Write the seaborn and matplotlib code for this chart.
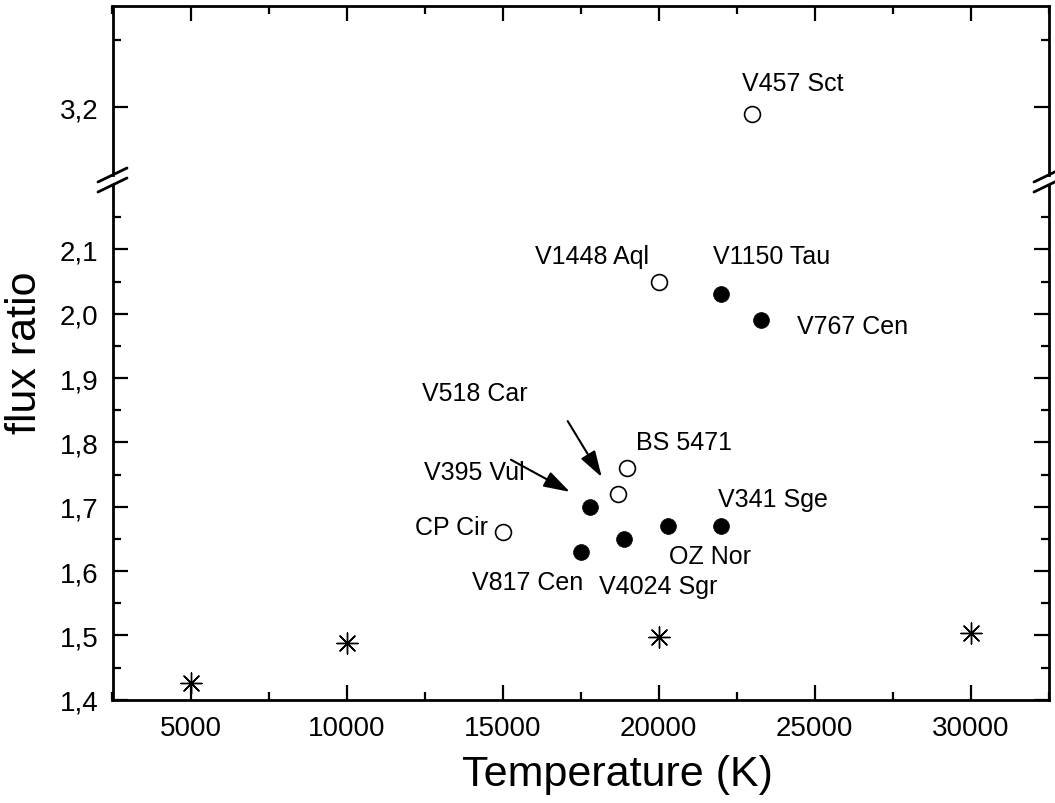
import matplotlib
matplotlib.use("Agg")
import matplotlib.pyplot as plt
import numpy as np
import pandas as pd
import seaborn as sns
from matplotlib.ticker import MultipleLocator, FixedLocator, FuncFormatter
from matplotlib.lines import Line2D

# Observed binaries: effective temperature and measured flux ratio
star_names = ["V457 Sct", "V1448 Aql", "BS 5471", "V518 Car", "CP Cir",
              "V1150 Tau", "V767 Cen", "V395 Vul", "V817 Cen", "V4024 Sgr",
              "OZ Nor", "V341 Sge"]
temperature = [23000, 20000, 19000, 18700, 15000,
               22000, 23300, 17800, 17500, 18900, 20300, 22000]
flux_ratio = [3.19, 2.05, 1.76, 1.72, 1.66,
              2.03, 1.99, 1.70, 1.63, 1.65, 1.67, 1.67]
filled = [False, False, False, False, False,
          True, True, True, True, True, True, True]

# Model predictions
model_temperature = [5000, 10000, 20000, 30000]
model_flux_ratio = [1.426, 1.488, 1.497, 1.504]

# Tick values
x_major = [5000, 10000, 15000, 20000, 25000, 30000]
y_major_low = [1.4, 1.5, 1.6, 1.7, 1.8, 1.9, 2.0, 2.1]
y_major_high = [3.2]

# Label placement (text centres) in data coordinates
label_pos = {
    "V457 Sct": (24300, 3.236),
    "V1448 Aql": (17860, 2.090),
    "V1150 Tau": (23610, 2.090),
    "V767 Cen": (26210, 1.981),
    "V518 Car": (14110, 1.877),
    "V395 Vul": (14100, 1.754),
    "BS 5471": (20820, 1.800),
    "V341 Sge": (23670, 1.712),
    "CP Cir": (13350, 1.668),
    "OZ Nor": (21660, 1.623),
    "V817 Cen": (15820, 1.583),
    "V4024 Sgr": (20000, 1.577),
}
# Arrows pointing at crowded points: (tail, head)
arrows = {
    "V395 Vul": ((15270, 1.773), (17160, 1.723)),
    "V518 Car": ((17090, 1.833), (18180, 1.746)),
}

df = pd.DataFrame({"name": star_names, "T": temperature,
                   "ratio": flux_ratio, "filled": filled})
models = pd.DataFrame({"T": model_temperature, "ratio": model_flux_ratio})

sns.set_theme(style="ticks")
plt.rcParams["font.family"] = ["Liberation Sans", "DejaVu Sans"]
plt.rcParams["text.color"] = "black"
plt.rcParams["axes.labelcolor"] = "black"

W, H = 1055, 804
fig = plt.figure(figsize=(W / 100, H / 100), dpi=100)

left = 112.5 / W
width = 936 / W
ax_lo = fig.add_axes([left, (H - 700.7) / H, width, (700.7 - 186) / H])
ax_hi = fig.add_axes([left, (H - 175.9) / H, width, (175.9 - 6.7) / H])

comma = FuncFormatter(lambda v, p: f"{v:.1f}".replace(".", ","))

for ax in (ax_lo, ax_hi):
    sns.scatterplot(data=df[~df["filled"]], x="T", y="ratio", ax=ax,
                    marker="o", s=130, facecolor="white", edgecolor="black",
                    linewidth=1.2, legend=False, zorder=3)
    sns.scatterplot(data=df[df["filled"]], x="T", y="ratio", ax=ax,
                    marker="o", s=130, color="black", edgecolor="black",
                    linewidth=0.5, legend=False, zorder=3)
    sns.scatterplot(data=models, x="T", y="ratio", ax=ax,
                    marker=(8, 2, 0), s=230, color="black",
                    linewidth=1.0, legend=False, zorder=3)
    ax.set_xlim(2500, 32500)
    ax.xaxis.set_major_locator(FixedLocator(x_major))
    ax.xaxis.set_minor_locator(MultipleLocator(2500))
    ax.set_xlabel("")
    ax.set_ylabel("")
    for sp in ax.spines.values():
        sp.set_linewidth(2.0)
        sp.set_color("black")
    ax.tick_params(which="both", direction="in", width=1.6, color="black",
                   labelsize=20, labelcolor="black")
    ax.tick_params(which="major", length=11)
    ax.tick_params(which="minor", length=5.5)

ax_lo.set_ylim(1.4, 2.2)
ax_lo.yaxis.set_major_locator(FixedLocator(y_major_low))
ax_lo.yaxis.set_minor_locator(FixedLocator(np.round(np.arange(1.45, 2.19, 0.1), 2)))
ax_lo.yaxis.set_major_formatter(comma)
ax_lo.spines["top"].set_visible(False)
ax_lo.tick_params(which="both", bottom=True, top=False, left=True, right=True,
                  labelright=False)
ax_lo.tick_params(axis="x", pad=11)
ax_lo.tick_params(axis="y", pad=10)

ax_hi.set_ylim(3.1, 3.35)
ax_hi.yaxis.set_major_locator(FixedLocator(y_major_high))
ax_hi.yaxis.set_minor_locator(FixedLocator([3.3]))
ax_hi.yaxis.set_major_formatter(comma)
ax_hi.spines["bottom"].set_visible(False)
ax_hi.tick_params(which="both", bottom=False, top=True, left=True, right=True,
                  labelbottom=False, labeltop=False, labelright=False)
ax_hi.tick_params(axis="y", pad=10)

# Star names
for name, (tx, ty) in label_pos.items():
    ax = ax_hi if ty > 3 else ax_lo
    ax.text(tx, ty, name, fontsize=18, ha="center", va="center",
            color="black", zorder=4)

for name, (tail, head) in arrows.items():
    ax_lo.annotate("", xy=head, xytext=tail,
                   arrowprops=dict(arrowstyle="-|>,head_length=0.8,head_width=0.25",
                                   mutation_scale=20, color="black", lw=1.5,
                                   shrinkA=0, shrinkB=0))

# Axis break marks on both vertical spines
for xp in (112.5, 1048.5):
    for yp in (176, 186):
        x0, x1 = (xp - 14.5) / W, (xp + 14.5) / W
        y0, y1 = (H - (yp + 7)) / H, (H - (yp - 7)) / H
        fig.add_artist(Line2D([x0, x1], [y0, y1], transform=fig.transFigure,
                              color="black", lw=2.0, clip_on=False))

fig.text(617 / W, 1 - 775 / H, "Temperature (K)", fontsize=31,
         ha="center", va="center", color="black")
fig.text(25 / W, 1 - 353 / H, "flux ratio", fontsize=31, rotation=90,
         ha="center", va="center", color="black")

fig.savefig("out.png", dpi=100)
